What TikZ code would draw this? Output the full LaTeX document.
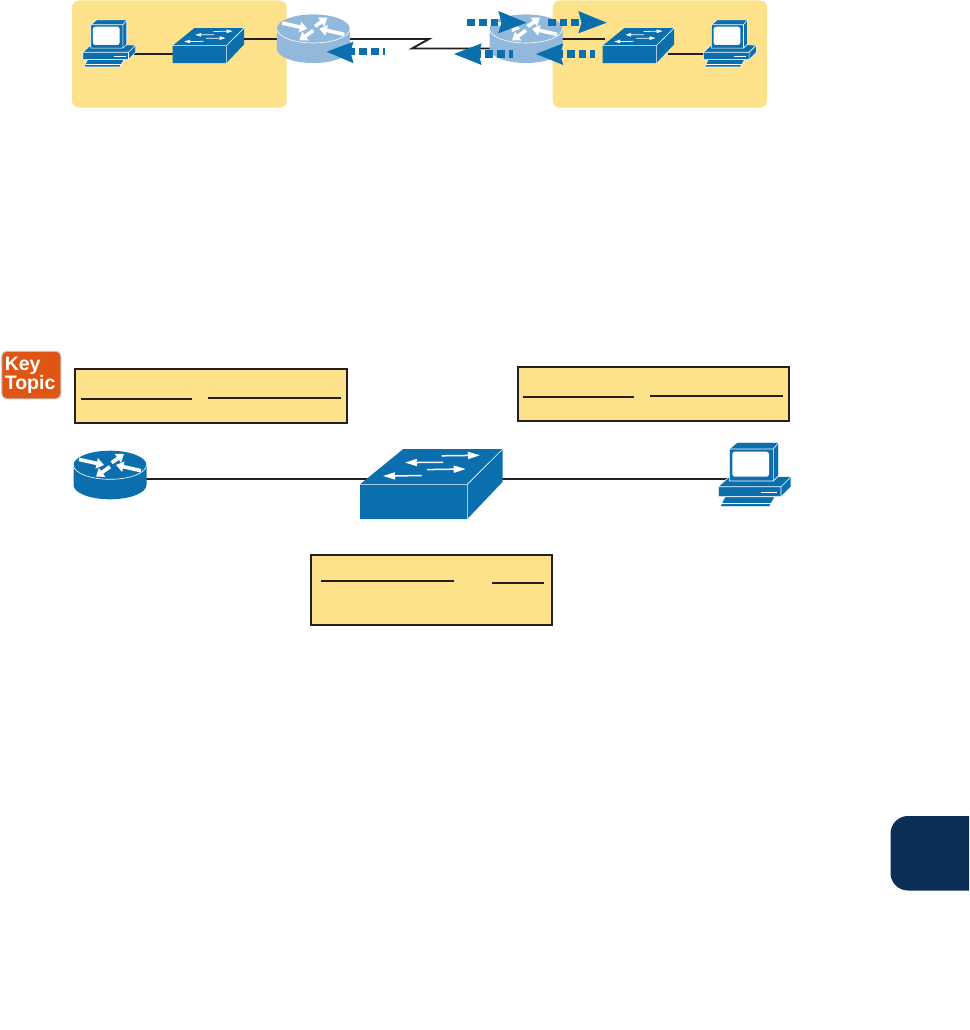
\documentclass[tikz,border=0pt]{standalone}
\usepackage{fontspec}
\setsansfont{Liberation Sans}
\usetikzlibrary{arrows.meta}
\definecolor{ciscoblue}{HTML}{0B6FAE}
\definecolor{lightblue}{HTML}{92B8DC}
\definecolor{sand}{HTML}{FDE28B}
\definecolor{ink}{HTML}{231F20}
\definecolor{navy}{HTML}{0B2F56}
\definecolor{keyorange}{HTML}{DF5614}
\tikzset{
  x=1pt,y=-1pt,
  wire/.style={draw=ink,line width=1.9pt},
  blank/.style={draw=ink,line width=1.8pt},
  notebox/.style={draw=ink,line width=1.8pt,fill=sand},
  zone/.style={fill=sand,rounded corners=7pt},
  flowtail/.style={draw=ciscoblue,line width=7.4pt},
  flowhead/.style={fill=ciscoblue},
  wa/.style={draw=white,line width=3.6pt,-{Triangle[length=7.5pt,width=10.5pt]}},
  sa/.style={draw=white,line width=#1*1.5pt,-{Triangle[length=12pt,width=7pt,scale=#1]}},
  edge/.style={draw=white,line width=.6pt,line join=round},
}
% router: #1,#2 = centre of the top face, #3 body colour
\newcommand{\routerdev}[3]{%
  \begin{scope}[shift={(#1,#2)}]
    \fill[#3] (-36.5,0) -- (-36.5,20) arc[start angle=180,end angle=0,x radius=36.5,y radius=14.3]
       -- (36.5,0) arc[start angle=0,end angle=-180,x radius=36.5,y radius=14.3] -- cycle;
    \draw[edge] (-36.5,0) arc[start angle=180,end angle=0,x radius=36.5,y radius=14.3];
    \draw[wa] (-31,-5.6) -- (-6,0);
    \draw[wa] (1.7,-2.3) -- (14,-11);
    \draw[wa] (31,5.7) -- (6,0);
    \draw[wa] (0,1.7) -- (-14,11.7);
  \end{scope}}
% switch: #1,#2 = top-left of the front face, #3 scale
\newcommand{\switchdev}[3]{%
  \begin{scope}[shift={(#1,#2)},scale=#3]
    \fill[ciscoblue] (0,0) -- (43.3,-35.3) -- (142.7,-35.3) -- (142.7,-2.6) -- (107.3,34.7) -- (0,34.7) -- cycle;
    \draw[edge] (0,0) -- (107.3,0) -- (142.7,-35.3) (107.3,0) -- (107.3,34.7);
    \draw[sa=#3] (81.7,-28.5) -- (120,-29);
    \draw[sa=#3] (83,-22) -- (45,-21.7);
    \draw[sa=#3] (67,-14.7) -- (105.7,-15.3);
    \draw[sa=#3] (61.7,-8.7) -- (23,-8.3);
  \end{scope}}
% pc: #1,#2 = top-left of the base front, #3 scale
\newcommand{\pcdev}[3]{%
  \begin{scope}[shift={(#1,#2)},scale=#3]
    \fill[ciscoblue,draw=white,line width=.6pt,line join=round] (0,0) -- (11.7,-10.7) -- (72.7,-10) -- (72.7,0) -- (62.7,10) -- (0,10) -- cycle;
    \draw[edge] (0,0) -- (62.7,0) -- (72.7,-10) (62.7,0) -- (62.7,10);
    \draw[white,line width=.7pt] (42.7,5.3) -- (59,5.3);
    \fill[ciscoblue,draw=white,line width=.6pt,line join=round] (6.7,10) -- (56.7,10) -- (51,20) -- (1.7,20) -- cycle;
    \draw[white,line width=.6pt] (4,16.8) -- (53,16.8);
    \fill[ciscoblue,draw=white,line width=.6pt,line join=round] (11,-5.7) -- (11,-37.7) -- (19,-44.4) -- (60.4,-44.4) -- (60.4,-11) -- (55,-5.7) -- cycle;
    \draw[edge] (11,-37.7) -- (55,-37.7) -- (60.4,-44.4) (55,-37.7) -- (55,-5.7);
    \fill[white,rounded corners=2.5pt] (14,-35) rectangle (50.7,-10);
  \end{scope}}
\begin{document}
\begin{tikzpicture}
\useasboundingbox (0,0) rectangle (969,1030);
% top zones
\fill[zone] (72,0.5) rectangle (286.7,107.7);
\fill[zone] (552.7,0.5) rectangle (767,107.7);
% top ports
\coordinate (pcA) at (128,53.7); \coordinate (swAw) at (173,53.7);
\coordinate (swAe) at (244,39); \coordinate (rtAw) at (277,39);
\coordinate (rtAe) at (350,39);
\coordinate (wanA) at (429,39); \coordinate (wanB) at (412,48.5); \coordinate (rtBw) at (490,48.5);
\coordinate (rtBe) at (562,39); \coordinate (swBw) at (605,39);
\coordinate (swBe) at (668,53.7); \coordinate (pcB) at (705,53.7);
\draw[wire] (pcA) -- (swAw);
\draw[wire] (swAe) -- (rtAw);
\draw[wire,line join=miter] (rtAe) -- (wanA) -- (wanB) -- (rtBw);
\draw[wire] (rtBe) -- (swBw);
\draw[wire] (swBe) -- (pcB);
% top devices
\pcdev{82.7}{52.3}{.73}
\switchdev{172.7}{45.7}{.5}
\routerdev{313.3}{28.7}{lightblue}
\routerdev{526}{28.7}{lightblue}
\switchdev{602.7}{45.7}{.5}
\pcdev{703.3}{52.3}{.73}
% flow arrows
\coordinate (fA0) at (385,51.7); \coordinate (fA1) at (348,51.7);
\draw[flowtail,dash pattern=on 7.7pt off 4pt,dash phase=5.4pt] (fA0) -- (fA1);
\fill[flowhead] (326.7,51.7) -- (353.5,41.7) -- (350.5,51.7) -- (353.5,63.3) -- cycle;
\coordinate (fB0) at (467.3,22.7); \coordinate (fB1) at (504,22.7);
\draw[flowtail,dash pattern=on 7.7pt off 4pt] (fB0) -- (fB1);
\fill[flowhead] (526.7,22.7) -- (498.3,11) -- (501.5,22.7) -- (498.3,33.3) -- cycle;
\coordinate (fC0) at (548,22.7); \coordinate (fC1) at (584,22.7);
\draw[flowtail,dash pattern=on 7.7pt off 4pt] (fC0) -- (fC1);
\fill[flowhead] (606.7,22.7) -- (578.3,11) -- (581.5,22.7) -- (578.3,33.3) -- cycle;
\coordinate (fD0) at (513.3,54); \coordinate (fD1) at (477,54);
\draw[flowtail,dash pattern=on 7.7pt off 4pt,dash phase=3pt] (fD0) -- (fD1);
\fill[flowhead] (454,54) -- (481.7,43.3) -- (478.5,54) -- (481.7,65) -- cycle;
\coordinate (fE0) at (595,54); \coordinate (fE1) at (558,54);
\draw[flowtail,dash pattern=on 7.7pt off 4pt,dash phase=3pt] (fE0) -- (fE1);
\fill[flowhead] (536,54) -- (563.3,43.3) -- (560,54) -- (563.3,65) -- cycle;
% key topic
\node[draw=black!25,line width=1pt,fill=keyorange,rounded corners=5pt,text width=53pt,inner xsep=3pt,inner ysep=0pt,minimum height=47.5pt,
      text=white,font=\sffamily\bfseries\fontsize{19.5}{18}\selectfont,align=left] (key) at (31.3,375) {Key\\Topic};
% note boxes
\node[notebox,minimum width=272.3pt,minimum height=54pt,inner sep=0pt] (noteA) at (210.85,396) {};
\node[notebox,minimum width=271.3pt,minimum height=54pt,inner sep=0pt] (noteB) at (653.65,394) {};
\node[notebox,minimum width=241pt,minimum height=70pt,inner sep=0pt] (noteC) at (431.5,590) {};
\draw[blank] (81,399) -- (192,399);
\draw[blank] (208,397.7) -- (341,397.7);
\draw[blank] (523,397) -- (634,397);
\draw[blank] (650,396) -- (783,396);
\draw[blank] (321,581) -- (454,581);
\draw[blank] (492,583) -- (544,583);
% bottom network
\coordinate (rtC) at (146,478.7); \coordinate (swCw) at (375,478.7);
\coordinate (swCe) at (500,478.7); \coordinate (pcC) at (730,478.7);
\draw[wire] (rtC) -- (swCw);
\draw[wire] (swCe) -- (pcC);
\routerdev{110}{465}{ciscoblue}
\switchdev{360}{484.3}{1}
\pcdev{718.3}{486.7}{1}
% chapter tab
\fill[navy] (969,816) -- (908,816) arc[start angle=270,end angle=180,radius=17.5] -- (890.5,873) arc[start angle=180,end angle=90,radius=17.5] -- (969,890.5) -- cycle;
\end{tikzpicture}
\end{document}
